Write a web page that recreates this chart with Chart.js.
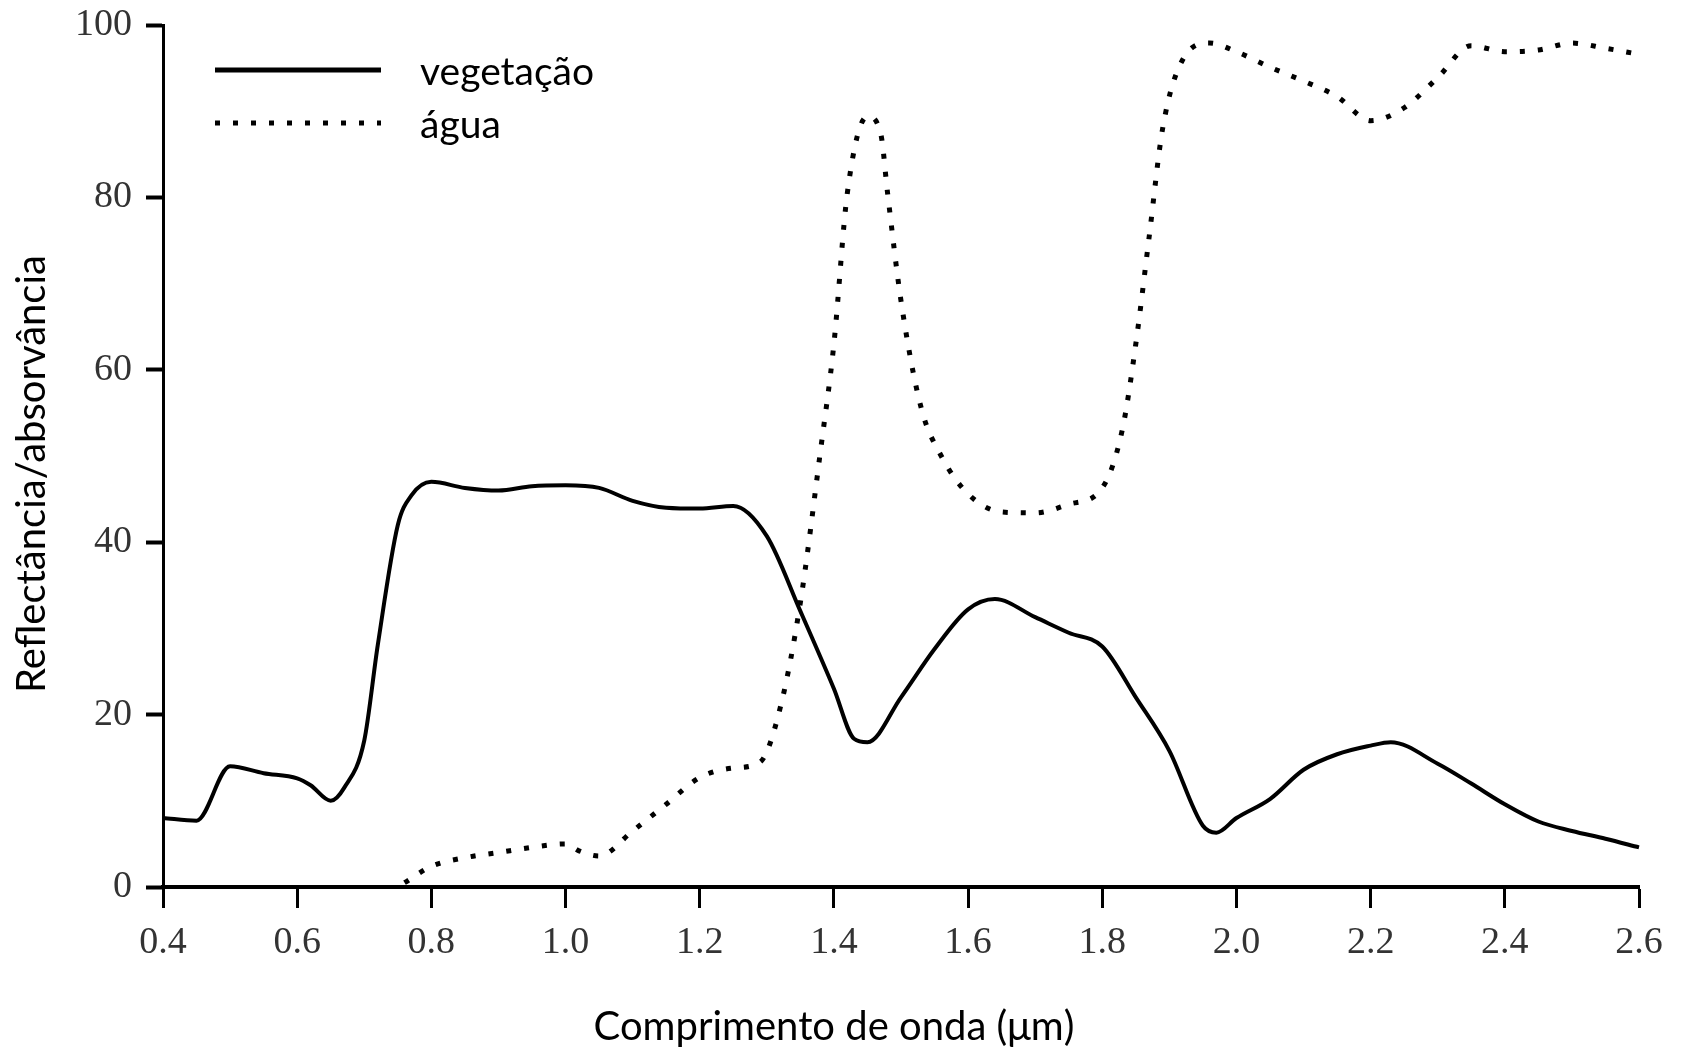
<!DOCTYPE html>
<html>
<head>
<meta charset="utf-8">
<script src="https://cdn.jsdelivr.net/npm/chart.js@4"></script>
<style>
  html, body { margin: 0; padding: 0; background: #fff; }
  #wrap { width: 1682px; height: 1048px; }
</style>
</head>
<body>
<div id="wrap"><canvas id="spectrum"></canvas></div>
<script>
// valores
const xTickValues = [0.4, 0.6, 0.8, 1.0, 1.2, 1.4, 1.6, 1.8, 2.0, 2.2, 2.4, 2.6];
const yTickValues = [0, 20, 40, 60, 80, 100];

const vegWavelength = [0.40, 0.45, 0.50, 0.55, 0.60, 0.62, 0.65, 0.67, 0.70, 0.72, 0.75, 0.77, 0.80, 0.85, 0.90, 0.95, 1.00, 1.05, 1.10, 1.15, 1.20, 1.25, 1.30, 1.35, 1.40, 1.43, 1.45, 1.50, 1.55, 1.60, 1.64, 1.70, 1.75, 1.80, 1.85, 1.90, 1.95, 1.97, 2.00, 2.05, 2.10, 2.15, 2.20, 2.23, 2.30, 2.35, 2.40, 2.45, 2.50, 2.55, 2.60];
const vegValues = [8.0, 7.7, 14.0, 13.2, 12.6, 11.8, 10.0, 11.5, 17.0, 28.0, 42.0, 45.4, 47.0, 46.3, 46.0, 46.5, 46.6, 46.3, 44.8, 44.0, 43.9, 44.2, 40.7, 32.0, 23.0, 17.2, 16.8, 22.0, 27.6, 32.2, 33.4, 31.3, 29.5, 27.9, 22.0, 15.8, 7.1, 6.3, 8.0, 10.2, 13.6, 15.4, 16.4, 16.8, 14.3, 12.0, 9.6, 7.6, 6.5, 5.6, 4.6];

const waterWavelength = [0.76, 0.80, 0.85, 0.90, 0.95, 1.00, 1.02, 1.05, 1.10, 1.15, 1.20, 1.25, 1.29, 1.32, 1.35, 1.38, 1.40, 1.42, 1.45, 1.47, 1.48, 1.50, 1.53, 1.56, 1.60, 1.65, 1.70, 1.75, 1.80, 1.83, 1.85, 1.87, 1.89, 1.92, 1.96, 2.00, 2.05, 2.10, 2.15, 2.20, 2.25, 2.30, 2.35, 2.40, 2.45, 2.50, 2.55, 2.60];
const waterValues = [0.5, 2.4, 3.4, 4.0, 4.6, 5.0, 4.2, 3.6, 6.5, 9.6, 12.7, 13.8, 14.5, 20.8, 33.0, 50.6, 63.0, 80.5, 89.4, 87.3, 80.5, 68.0, 55.6, 50.0, 45.6, 43.5, 43.4, 44.4, 46.3, 53.1, 63.0, 75.5, 88.0, 96.0, 97.9, 96.9, 95.1, 93.5, 91.7, 88.9, 90.4, 93.9, 97.6, 96.9, 97.1, 97.9, 97.3, 96.6];

const seriesLabels = ['vegetação', 'água'];
const xTitle = 'Comprimento de onda (μm)';
const yTitle = 'Reflectância/absorvância';

function toPoints(xs, ys) {
    return xs.map(function (x, i) { return { x: x, y: ys[i] }; });
}

var sansFont = 'Lato, "Open Sans", sans-serif';

// legenda e títulos dos eixos desenhados dentro do canvas
var extrasPlugin = {
    id: 'extras',
    afterDraw: function (chart) {
        var ctx = chart.ctx;
        ctx.save();
        ctx.fillStyle = '#000';
        ctx.textBaseline = 'middle';

        // legenda
        ctx.font = '39px ' + sansFont;
        var rows = [70, 123];
        chart.data.datasets.forEach(function (ds, i) {
            ctx.beginPath();
            ctx.strokeStyle = ds.borderColor;
            ctx.lineWidth = i === 0 ? 5 : ds.borderWidth;
            ctx.setLineDash(ds.borderDash || []);
            ctx.moveTo(215, rows[i]);
            ctx.lineTo(381, rows[i]);
            ctx.stroke();
            ctx.setLineDash([]);
            ctx.textAlign = 'left';
            ctx.fillText(ds.label, 420, rows[i] + 2);
        });

        // título x
        ctx.font = '40px ' + sansFont;
        ctx.textAlign = 'center';
        ctx.fillText(xTitle, 834, 1027);

        // título y
        ctx.translate(32, 474);
        ctx.rotate(-Math.PI / 2);
        ctx.fillText(yTitle, 0, 0);
        ctx.restore();
    }
};

document.addEventListener('DOMContentLoaded', function () {
    var ctx = document.getElementById('spectrum').getContext('2d');
    var chart = new Chart(ctx, {
        type: 'line',
        data: {
            datasets: [{
                label: seriesLabels[0],
                data: toPoints(vegWavelength, vegValues),
                borderColor: '#000',
                borderWidth: 4,
                pointRadius: 0,
                cubicInterpolationMode: 'monotone',
                fill: false,
                clip: false
            }, {
                label: seriesLabels[1],
                data: toPoints(waterWavelength, waterValues),
                borderColor: '#000',
                borderWidth: 5,
                borderDash: [5, 13],
                pointRadius: 0,
                cubicInterpolationMode: 'monotone',
                fill: false,
                clip: false
            }]
        },
        options: {
            responsive: true,
            maintainAspectRatio: false,
            animation: false,
            layout: {
                padding: { top: 25, right: 43, left: 0, bottom: 0 }
            },
            plugins: {
                legend: { display: false },
                tooltip: { enabled: false }
            },
            scales: {
                x: {
                    type: 'linear',
                    min: 0.4,
                    max: 2.6,
                    afterBuildTicks: function (scale) {
                        scale.ticks = xTickValues.map(function (v) { return { value: v }; });
                    },
                    afterFit: function (scale) { scale.height = 161; },
                    ticks: {
                        autoSkip: false,
                        maxRotation: 0,
                        padding: 12,
                        color: '#333',
                        font: { family: '"Liberation Serif", serif', size: 38 },
                        callback: function (v) { return Number(v).toFixed(1); }
                    },
                    grid: {
                        drawOnChartArea: false,
                        drawTicks: true,
                        tickLength: 21,
                        tickWidth: 3,
                        tickColor: '#000'
                    },
                    border: { color: '#000', width: 4 }
                },
                y: {
                    min: 0,
                    max: 100,
                    afterBuildTicks: function (scale) {
                        scale.ticks = yTickValues.map(function (v) { return { value: v }; });
                    },
                    afterFit: function (scale) {
                        scale.width = 163;
                        scale.paddingTop = 0;
                        scale.paddingBottom = 0;
                    },
                    ticks: {
                        padding: 14,
                        color: '#333',
                        font: { family: '"Liberation Serif", serif', size: 38 }
                    },
                    grid: {
                        drawOnChartArea: false,
                        drawTicks: true,
                        tickLength: 17,
                        tickWidth: 4,
                        tickColor: '#000'
                    },
                    border: { color: '#000', width: 3 }
                }
            }
        },
        plugins: [extrasPlugin]
    });
});
</script>
</body>
</html>
